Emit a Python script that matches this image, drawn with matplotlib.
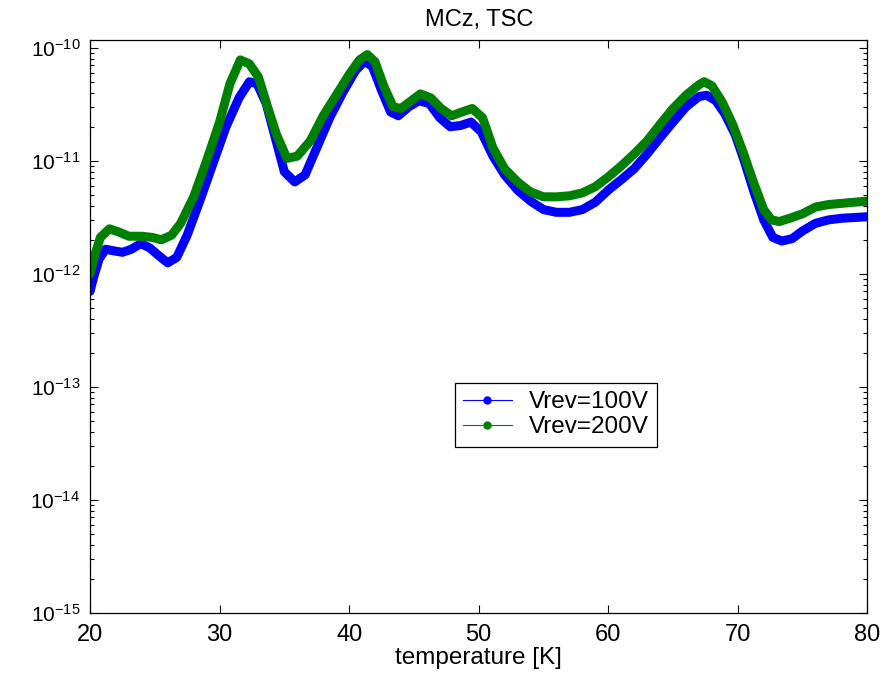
import numpy as np
import matplotlib
matplotlib.use("Agg")
import matplotlib.pyplot as plt
from matplotlib.lines import Line2D
from matplotlib.ticker import FixedLocator, NullFormatter

plt.rcParams["font.family"] = ["Liberation Sans", "DejaVu Sans"]
plt.rcParams["mathtext.fontset"] = "custom"
plt.rcParams["mathtext.rm"] = "Liberation Sans"
plt.rcParams["mathtext.it"] = "Liberation Sans"

# Vrev = 100 V (blue)
temp_100 = [20.0, 20.3, 20.7, 21.2, 21.8, 22.5, 23.2, 23.9, 24.6, 25.3, 26.0, 26.7,
            27.5, 28.5, 29.5, 30.5, 31.5, 32.3, 32.9, 33.6, 34.3, 35.0, 35.8, 36.6,
            37.5, 38.5, 39.5, 40.5, 41.2, 41.8, 42.5, 43.2, 43.8, 44.6, 45.4, 46.2,
            47.0, 47.8, 48.6, 49.4, 50.2, 51.1, 52.0, 53.0, 54.0, 55.0, 56.0, 57.0,
            58.0, 59.0, 60.0, 61.0, 62.0, 63.0, 64.0, 65.0, 66.0, 67.0, 67.6, 68.3,
            69.0, 69.8, 70.5, 71.2, 72.0, 72.7, 73.4, 74.2, 75.0, 76.0, 77.0, 78.0,
            79.0, 80.0]
cur_100 = [7.0e-13, 9.5e-13, 1.35e-12, 1.65e-12, 1.6e-12, 1.55e-12, 1.65e-12, 1.85e-12,
           1.7e-12, 1.45e-12, 1.25e-12, 1.4e-12, 2.2e-12, 4.5e-12, 9.5e-12, 2.0e-11,
           3.6e-11, 5.0e-11, 4.8e-11, 3.2e-11, 1.6e-11, 8.0e-12, 6.5e-12, 7.5e-12,
           1.3e-11, 2.4e-11, 4.0e-11, 6.3e-11, 7.6e-11, 6.8e-11, 4.2e-11, 2.7e-11,
           2.5e-11, 3.0e-11, 3.4e-11, 3.2e-11, 2.4e-11, 2.0e-11, 2.05e-11, 2.2e-11,
           1.8e-11, 1.1e-11, 7.5e-12, 5.5e-12, 4.4e-12, 3.7e-12, 3.5e-12, 3.5e-12,
           3.7e-12, 4.3e-12, 5.5e-12, 6.8e-12, 8.5e-12, 1.15e-11, 1.6e-11, 2.2e-11,
           3.0e-11, 3.7e-11, 3.8e-11, 3.4e-11, 2.6e-11, 1.7e-11, 1.0e-11, 5.5e-12,
           3.0e-12, 2.1e-12, 1.95e-12, 2.05e-12, 2.4e-12, 2.8e-12, 3.0e-12, 3.1e-12,
           3.15e-12, 3.2e-12]

# Vrev = 200 V (green)
temp_200 = [20.0, 20.4, 20.8, 21.5, 22.2, 23.0, 24.0, 24.8, 25.5, 26.3, 27.0, 28.0,
            29.0, 30.0, 30.8, 31.6, 32.3, 33.0, 33.7, 34.4, 35.2, 36.0, 37.0, 38.0,
            39.0, 40.0, 40.8, 41.4, 42.0, 42.7, 43.4, 44.0, 44.8, 45.5, 46.3, 47.1,
            47.9, 48.7, 49.5, 50.3, 51.1, 52.0, 53.0, 54.0, 55.0, 56.0, 57.0, 58.0,
            59.0, 60.0, 61.0, 62.0, 63.0, 64.0, 65.0, 66.0, 67.0, 67.4, 68.0, 68.8,
            69.6, 70.4, 71.2, 72.0, 72.6, 73.2, 74.0, 75.0, 76.0, 77.0, 78.0, 79.0,
            80.0]
cur_200 = [1.0e-12, 1.5e-12, 2.1e-12, 2.5e-12, 2.35e-12, 2.15e-12, 2.15e-12, 2.1e-12,
           2.0e-12, 2.2e-12, 2.8e-12, 4.8e-12, 1.0e-11, 2.2e-11, 4.8e-11, 7.8e-11,
           7.2e-11, 5.5e-11, 3.0e-11, 1.7e-11, 1.05e-11, 1.1e-11, 1.5e-11, 2.5e-11,
           3.8e-11, 5.8e-11, 7.8e-11, 8.7e-11, 7.5e-11, 4.5e-11, 3.0e-11, 2.9e-11,
           3.4e-11, 3.9e-11, 3.6e-11, 2.9e-11, 2.5e-11, 2.7e-11, 2.9e-11, 2.4e-11,
           1.3e-11, 8.5e-12, 6.5e-12, 5.3e-12, 4.8e-12, 4.8e-12, 4.9e-12, 5.2e-12,
           5.9e-12, 7.2e-12, 9.0e-12, 1.15e-11, 1.5e-11, 2.1e-11, 2.9e-11, 3.8e-11,
           4.7e-11, 5.0e-11, 4.6e-11, 3.3e-11, 2.1e-11, 1.2e-11, 6.5e-12, 3.7e-12,
           3.0e-12, 2.9e-12, 3.1e-12, 3.4e-12, 3.9e-12, 4.1e-12, 4.2e-12, 4.3e-12,
           4.4e-12]

x_ticks = [20, 30, 40, 50, 60, 70, 80]
y_ticks = [1e-15, 1e-14, 1e-13, 1e-12, 1e-11, 1e-10]

blue = (0, 0, 1)
green = (0, 0.5, 0)

fig = plt.figure(figsize=(8.93, 6.76), dpi=100)
ax = fig.add_axes([0.1008, 0.0932, 0.8705, 0.8476])

ax.plot(temp_100, cur_100, color=blue, lw=6.5, solid_capstyle="round", solid_joinstyle="round")
ax.plot(temp_200, cur_200, color=green, lw=6.5, solid_capstyle="round", solid_joinstyle="round")

ax.set_yscale("log")
ax.set_xlim(20, 80)
ax.set_ylim(1e-15, 1.17e-10)
ax.set_xticks(x_ticks)
ax.yaxis.set_major_locator(FixedLocator(y_ticks))
minors = [m * d for d in y_ticks[:-1] for m in range(2, 10)]
ax.yaxis.set_minor_locator(FixedLocator(minors))
ax.yaxis.set_minor_formatter(NullFormatter())
ax.tick_params(which="both", direction="in", top=True, right=True, width=0.8)
ax.tick_params(axis="x", which="major", labelsize=17, pad=8)
ax.tick_params(axis="y", which="major", labelsize=15, pad=7)
ax.tick_params(which="major", length=6)
ax.tick_params(which="minor", length=3)
for s in ax.spines.values():
    s.set_linewidth(0.9)

ax.set_xlabel("temperature [K]", fontsize=17.5, labelpad=1)
ax.set_title("MCz, TSC", fontsize=17, pad=10)

handles = [Line2D([], [], color=blue, lw=0.8, marker="o", ms=5),
           Line2D([], [], color=green, lw=0.8, marker="o", ms=5)]
leg = ax.legend(handles, ["Vrev=100V", "Vrev=200V"], loc="lower left",
                bbox_to_anchor=(0.469, 0.29), borderaxespad=0, fontsize=17.5,
                fancybox=False, edgecolor="black", framealpha=1, handlelength=2.0,
                borderpad=0.35, labelspacing=0.12, handletextpad=0.7)
leg.get_frame().set_linewidth(0.9)

fig.savefig("out.png", dpi=100)
